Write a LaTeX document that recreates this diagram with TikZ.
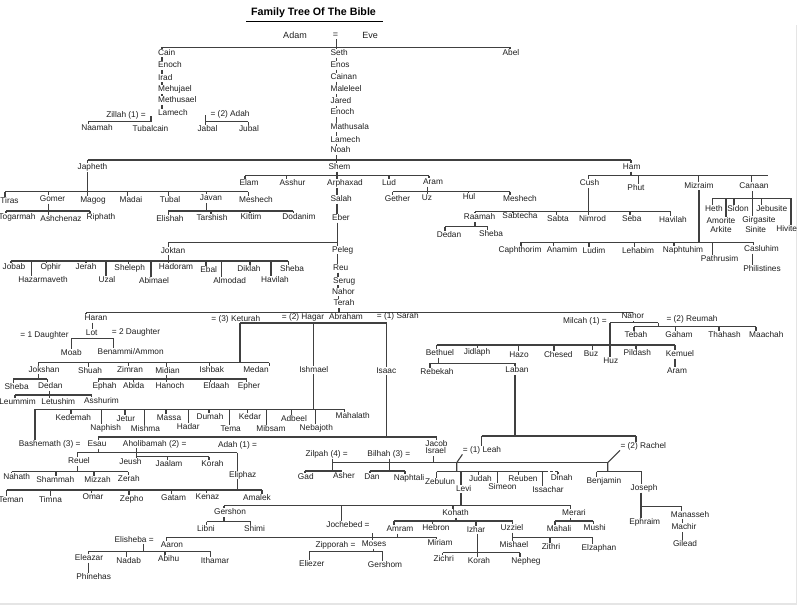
\documentclass[tikz,border=0pt]{standalone}
\usepackage{fontspec}
\setmainfont{Liberation Sans}
\newcommand\fs{\fontsize{8.3}{9}\selectfont}
\newcommand\ftk[3]{\draw[ln] (#1,#2) -- (#1,0 |- #3.north);}
\newcommand\fvd[3]{\draw[ln] (#1,0 |- #2.south) -- (#1,0 |- #3.north);}
\newcommand\fvb[3]{\draw[ln] (#1,0 |- #2.south) -- (#1,#3);}
\newcommand\fhb[3]{\draw[ln] (#2,#1) -- (#3,#1);}
\begin{document}
\begin{tikzpicture}[x=1pt,y=-1pt,
  n/.style={inner sep=0.4pt,text height=5.9pt,text depth=1.7pt,font=\fs,text=black!88},
  ln/.style={line width=1.1pt,draw=black!75},
  big/.style={n,font=\fontsize{9}{10}\selectfont}]
\useasboundingbox (0,0) rectangle (800,608);
\fill[white] (0,0) rectangle (800,608);
\draw[black!10,line width=1.5pt] (796.5,25) -- (796.5,604) -- (0,604);
% title
\node[font=\bfseries\fontsize{10.7}{12}\selectfont,inner sep=0pt] (title) at (313.5,13) {Family Tree Of The Bible};
\draw[line width=1.6pt] (246,21.5) -- (383,21.5);
\node[big] (adam) at (295,36.7) {Adam};
\node[big] (eq) at (335.5,35) {=};
\node[big] (eve) at (370,36) {Eve};
\fhb{47.3}{162}{510}
% Cain line
\node[n,anchor=west] (cain) at (157.5,53) {Cain};
\node[n,anchor=west] (enocha) at (157.5,65.5) {Enoch};
\node[n,anchor=west] (irad) at (157.5,78) {Irad};
\node[n,anchor=west] (mehujael) at (157.5,89.5) {Mehujael};
\node[n,anchor=west] (methusael) at (157.5,100.5) {Methusael};
\node[n,anchor=west] (lamecha) at (157.5,113.3) {Lamech};
\ftk{162}{47.3}{cain}
\fvd{162}{cain}{enocha}\fvd{162}{enocha}{irad}\fvd{162}{irad}{mehujael}
\fvd{162}{mehujael}{methusael}\fvd{162}{methusael}{lamecha}
\node[n,anchor=west] (zillah) at (105.7,115) {Zillah (1) =};
\fhb{121.7}{88.3}{151}
\draw[ln] (151,116) -- (151,121.7);
\node[n] (naamah) at (97,128.7) {Naamah};
\node[n] (tubalcain) at (150.5,129) {Tubalcain};
\ftk{88.3}{121.7}{naamah}
\node[n,anchor=west] (adah) at (210,114) {= (2) Adah};
\fhb{121.7}{205.7}{248.3}
\draw[ln] (205.7,115) -- (205.7,121.7);
\node[n] (jabal) at (207.5,129) {Jabal};
\node[n] (jubal) at (249,129) {Jubal};
\ftk{205.7}{121.7}{jabal}\ftk{248.3}{121.7}{jubal}
\node[n] (abel) at (511,53.3) {Abel};
\ftk{510}{47.3}{abel}
% Seth line
\node[n,anchor=west] (seth) at (330,53.3) {Seth};
\node[n,anchor=west] (enos) at (330,65.3) {Enos};
\node[n,anchor=west] (cainan) at (330,77.3) {Cainan};
\node[n,anchor=west] (maleleel) at (330,89.3) {Maleleel};
\node[n,anchor=west] (jared) at (330,101.7) {Jared};
\node[n,anchor=west] (enochs) at (330,112.7) {Enoch};
\node[n,anchor=west] (mathusala) at (330,127.7) {Mathusala};
\node[n,anchor=west] (lamechs) at (330,140) {Lamech};
\node[n,anchor=west] (noah) at (330,150.7) {Noah};
\fvd{336.7}{eq}{seth}
\fvd{336.7}{seth}{enos}\fvd{336.7}{enos}{cainan}\fvd{336.7}{cainan}{maleleel}
\fvd{336.7}{maleleel}{jared}\fvd{336.7}{jared}{enochs}\fvd{336.7}{enochs}{mathusala}
\fvd{336.7}{mathusala}{lamechs}\fvd{336.7}{lamechs}{noah}
% Noah's sons
\fhb{160}{87.5}{631}
\node[n] (shem) at (339.5,167.3) {Shem};
\node[n] (japheth) at (92.5,167.7) {Japheth};
\node[n] (ham) at (631.7,167.3) {Ham};
\fvd{336.7}{noah}{shem}
\ftk{87.5}{160}{japheth}\ftk{631}{160}{ham}
% Japheth
\fvb{87.5}{japheth}{191.7}
\fhb{191.7}{5}{248.3}
\node[n] (tiras) at (9.5,201) {Tiras};
\node[n] (gomer) at (52.5,199.3) {Gomer};
\node[n] (magog) at (93,200.7) {Magog};
\node[n] (madai) at (131,200.7) {Madai};
\node[n] (tubal) at (170,200) {Tubal};
\node[n] (javan) at (211,198.7) {Javan};
\node[n] (meshechj) at (256,200) {Meshech};
\ftk{5}{191.7}{tiras}\ftk{48.3}{191.7}{gomer}\ftk{87.5}{191.7}{magog}
\ftk{127.7}{191.7}{madai}\ftk{168.3}{191.7}{tubal}\ftk{206.7}{191.7}{javan}
\ftk{248.3}{191.7}{meshechj}
\fvb{48.3}{gomer}{211}
\fhb{211}{6}{90}
\node[n] (togarmah) at (17,217.7) {Togarmah};
\node[n] (ashchenaz) at (61,219) {Ashchenaz};
\node[n] (riphath) at (101,217.3) {Riphath};
\ftk{6}{211}{togarmah}\ftk{48.3}{211}{ashchenaz}\ftk{90}{211}{riphath}
\fvb{206.7}{javan}{211}
\fhb{211}{168.3}{293.3}
\node[n] (elishah) at (170,219.3) {Elishah};
\node[n] (tarshish) at (212,218.7) {Tarshish};
\node[n] (kittim) at (251,217.7) {Kittim};
\node[n] (dodanim) at (299,217.7) {Dodanim};
\ftk{168.3}{211}{elishah}\ftk{211}{211}{tarshish}\ftk{250}{211}{kittim}\ftk{293.3}{211}{dodanim}
% Shem
\fvb{337}{shem}{175.5}
\fhb{175.5}{245}{429}
\node[n] (elam) at (249,183.3) {Elam};
\node[n] (asshur) at (292.5,183.7) {Asshur};
\node[n] (arphaxad) at (345,183.7) {Arphaxad};
\node[n] (lud) at (389,183.7) {Lud};
\node[n] (aram) at (433,182.3) {Aram};
\ftk{245}{175.5}{elam}\ftk{286.7}{175.5}{asshur}\ftk{337}{175.5}{arphaxad}
\ftk{389}{175.5}{lud}\ftk{429}{175.5}{aram}
\fvb{427.7}{aram}{191.7}
\fhb{191.7}{392.7}{510}
\node[n] (gether) at (397.5,199.3) {Gether};
\node[n] (uz) at (427,198) {Uz};
\node[n] (hul) at (469,197.7) {Hul};
\node[n] (meshecha) at (520,199) {Meshech};
\ftk{392.7}{191.7}{gether}\ftk{427.7}{191.7}{uz}\ftk{468.5}{191.7}{hul}\ftk{510}{191.7}{meshecha}
% Arphaxad line
\node[n,anchor=west] (salah) at (330,199.3) {Salah};
\node[n,anchor=west] (eber) at (331.5,218.3) {Eber};
\node[n,anchor=west] (peleg) at (331.5,250) {Peleg};
\node[n,anchor=west] (reu) at (332.5,268.3) {Reu};
\node[n,anchor=west] (serug) at (332.5,281) {Serug};
\node[n,anchor=west] (nahora) at (331.5,292) {Nahor};
\node[n,anchor=west] (terah) at (333,303.7) {Terah};
\fvd{337}{arphaxad}{salah}\fvd{337}{salah}{eber}\fvd{337.5}{eber}{peleg}
\fvd{337.5}{peleg}{reu}\fvd{338}{reu}{serug}\fvd{338}{serug}{nahora}\fvd{338.5}{nahora}{terah}
% Joktan
\fhb{242.7}{168.3}{337.5}
\node[n] (joktan) at (173,251) {Joktan};
\ftk{168.3}{242.7}{joktan}
\fhb{261}{11}{288.3}
\node[n] (jobab) at (14,267.7) {Jobab};
\node[n] (hazarmaveth) at (43,280.7) {Hazarmaveth};
\node[n] (ophir) at (50.7,267.7) {Ophir};
\node[n] (jerah) at (86,267.7) {Jerah};
\node[n] (uzal) at (107,280) {Uzal};
\node[n] (sheleph) at (129.7,268.3) {Sheleph};
\node[n] (abimael) at (154,281) {Abimael};
\node[n] (hadoram) at (176,267.7) {Hadoram};
\node[n] (ebal) at (208.7,270) {Ebal};
\node[n] (almodad) at (229.7,281) {Almodad};
\node[n] (diklah) at (249,269.3) {Diklah};
\node[n] (havilahj) at (275,280) {Havilah};
\node[n] (shebaj) at (292,269) {Sheba};
\fvd{168.3}{joktan}{hadoram}
\ftk{11}{261}{jobab}\ftk{31.7}{261}{hazarmaveth}\ftk{46.7}{261}{ophir}\ftk{86}{261}{jerah}
\ftk{106}{261}{uzal}\ftk{128.3}{261}{sheleph}\ftk{151}{261}{abimael}\ftk{206}{261}{ebal}
\ftk{221.7}{261}{almodad}\ftk{250}{261}{diklah}\ftk{271}{261}{havilahj}\ftk{288.3}{261}{shebaj}
% Ham
\fvb{631}{ham}{175.7}
\fhb{175.7}{588.3}{768.3}
\node[n] (cush) at (589.5,183.7) {Cush};
\node[n] (phut) at (636,188.3) {Phut};
\node[n] (mizraim) at (699,186) {Mizraim};
\node[n] (canaan) at (754,186.7) {Canaan};
\ftk{588.3}{175.7}{cush}\ftk{638.3}{175.7}{phut}\ftk{698.3}{175.7}{mizraim}\ftk{751.7}{175.7}{canaan}
\fhb{211.5}{475}{670.7}
\node[n] (raamah) at (479.5,217.7) {Raamah};
\node[n] (sabtecha) at (520,216.7) {Sabtecha};
\node[n] (sabta) at (558,219.3) {Sabta};
\node[n] (nimrod) at (592.5,219.3) {Nimrod};
\node[n] (seba) at (631.7,219.3) {Seba};
\node[n] (havilahc) at (673,220) {Havilah};
\fvd{588.3}{cush}{nimrod}
\ftk{475}{211.5}{raamah}\ftk{512.3}{211.5}{sabtecha}\ftk{556.7}{211.5}{sabta}
\ftk{630}{211.5}{seba}\ftk{670.7}{211.5}{havilahc}
\fvb{475}{raamah}{226.7}
\fhb{226.7}{445}{487.7}
\node[n] (dedanr) at (449,235) {Dedan};
\node[n] (shebar) at (491,234.3) {Sheba};
\ftk{445}{226.7}{dedanr}\ftk{487.7}{226.7}{shebar}
\fvb{699}{mizraim}{242.3}
\fhb{242.3}{521}{753.3}
\node[n] (caphthorim) at (520,250) {Caphthorim};
\node[n] (anamim) at (562,250) {Anamim};
\node[n] (ludim) at (594,251) {Ludim};
\node[n] (lehabim) at (638,251) {Lehabim};
\node[n] (naphtuhim) at (683,250.7) {Naphtuhim};
\node[n] (pathrusim) at (719.5,259) {Pathrusim};
\node[n] (casluhim) at (761.5,249.3) {Casluhim};
\node[n] (philistines) at (762,269) {Philistines};
\ftk{521}{242.3}{caphthorim}\ftk{553.3}{242.3}{anamim}\ftk{589}{242.3}{ludim}
\ftk{634.3}{242.3}{lehabim}\ftk{674}{242.3}{naphtuhim}\ftk{712.7}{242.3}{pathrusim}
\ftk{753.3}{242.3}{casluhim}\fvd{752.7}{casluhim}{philistines}
\fhb{198.3}{712.7}{791}
\node[n] (heth) at (714,209.3) {Heth};
\node[n] (sidon) at (738,209.3) {Sidon};
\node[n] (jebusite) at (771.7,209) {Jebusite};
\node[n] (amorite) at (721,221) {Amorite};
\node[n] (arkite) at (721,230) {Arkite};
\node[n] (girgasite) at (759,220) {Girgasite};
\node[n] (sinite) at (755.7,230) {Sinite};
\node[n] (hivite) at (786.7,229) {Hivite};
\fvd{752.7}{canaan}{girgasite}
\ftk{712.7}{198.3}{heth}\ftk{734}{198.3}{sidon}\ftk{761.7}{198.3}{jebusite}
\ftk{726}{198.3}{amorite}\ftk{791}{198.3}{hivite}
% Terah
\fhb{312.5}{86}{633}
\draw[ln] (339,0 |- terah.south) -- (339,312.5);
\node[n] (haran) at (96,318.3) {Haran};
\ftk{86}{312.5}{haran}
\node[n] (lot) at (91.7,333.3) {Lot};
\node[n] (daughter1) at (44.5,335) {= 1 Daughter};
\node[n] (daughter2) at (136,332.3) {= 2 Daughter};
\fvd{92.7}{haran}{lot}
\fvb{92.7}{lot}{338.3}
\draw[ln,line width=1.4pt] (71.7,338.3) -- (113.3,338.3);
\node[n] (moab) at (71.3,353.3) {Moab};
\node[n] (benammi) at (130.7,352.7) {Benammi/Ammon};
\draw[ln,line width=1.4pt] (71.7,338.3) -- (71.7,0 |- moab.north);
\draw[ln,line width=1.4pt] (113.3,338.3) -- (113.3,0 |- benammi.north);
% Abraham
\node[n] (keturah) at (235.8,319) {= (3) Keturah};
\node[n] (hagar) at (303,317.3) {= (2) Hagar};
\node[n] (abraham) at (346,317.7) {Abraham};
\node[n] (sarah) at (397.8,316.7) {= (1) Sarah};
\fvb{348}{abraham}{323}
\fhb{323}{240}{386.7}
\draw[ln] (240,323) -- (240,362.7);
\fhb{362.7}{38.3}{269.3}
\node[n] (jokshan) at (44,370) {Jokshan};
\node[n] (shuah) at (90,371) {Shuah};
\node[n] (zimran) at (130,370) {Zimran};
\node[n] (midian) at (167.5,371) {Midian};
\node[n] (ishbak) at (211.7,370) {Ishbak};
\node[n] (medan) at (256,370.3) {Medan};
\ftk{38.3}{362.7}{jokshan}\ftk{88.3}{362.7}{shuah}\ftk{128.3}{362.7}{zimran}
\ftk{166.7}{362.7}{midian}\ftk{209.3}{362.7}{ishbak}\ftk{269.3}{362.7}{medan}
\fvb{38.3}{jokshan}{379}
\fhb{379}{13.3}{47.3}
\node[n] (shebak) at (16.7,387.3) {Sheba};
\node[n] (dedank) at (50.3,386.7) {Dedan};
\ftk{13.3}{379}{shebak}\ftk{47.3}{379}{dedank}
\fvb{49.3}{dedank}{395}
\fhb{395}{15}{91.7}
\node[n] (leummim) at (17.5,402.3) {Leummim};
\node[n] (letushim) at (58.3,402.3) {Letushim};
\node[n] (asshurim) at (101.5,401.7) {Asshurim};
\ftk{15}{395}{leummim}\ftk{49.3}{395}{letushim}\ftk{91.7}{395}{asshurim}
\fvb{166.7}{midian}{379}
\fhb{379}{98.3}{246.7}
\node[n] (ephah) at (104.5,386.7) {Ephah};
\node[n] (abida) at (133.7,386.7) {Abida};
\node[n] (hanoch) at (170,386) {Hanoch};
\node[n] (eldaah) at (216.3,386.7) {Eldaah};
\node[n] (epher) at (249,386.7) {Epher};
\ftk{98.3}{379}{ephah}\ftk{133.3}{379}{abida}\ftk{166.7}{379}{hanoch}
\ftk{210.7}{379}{eldaah}\ftk{246.7}{379}{epher}
% Ishmael
\node[n] (ishmael) at (313.8,370) {Ishmael};
\ftk{313.3}{323}{ishmael}
\fvb{313.3}{ishmael}{409.3}
\fhb{409.3}{35}{345}
\node[n] (kedemah) at (73.3,418.3) {Kedemah};
\node[n] (naphish) at (105.7,428.3) {Naphish};
\node[n] (jetur) at (125.8,419) {Jetur};
\node[n] (mishma) at (145.5,429) {Mishma};
\node[n] (massa) at (169,418.3) {Massa};
\node[n] (hadar) at (188.3,427.7) {Hadar};
\node[n] (dumah) at (210,417.3) {Dumah};
\node[n] (tema) at (230.7,429) {Tema};
\node[n] (kedar) at (250,417.7) {Kedar};
\node[n] (mibsam) at (271,429) {Mibsam};
\node[n] (adbeel) at (294,419) {Adbeel};
\node[n] (nebajoth) at (316.3,428.3) {Nebajoth};
\node[n] (mahalath) at (352.7,416.7) {Mahalath};
\ftk{71}{409.3}{kedemah}\ftk{101.7}{409.3}{naphish}\ftk{125}{409.3}{jetur}
\ftk{144.3}{409.3}{mishma}\ftk{166}{409.3}{massa}\ftk{188.3}{409.3}{hadar}
\ftk{209}{409.3}{dumah}\ftk{229.3}{409.3}{tema}\ftk{247.3}{409.3}{kedar}
\ftk{266.5}{409.3}{mibsam}\ftk{291.7}{409.3}{adbeel}\ftk{315.3}{409.3}{nebajoth}
\ftk{344.3}{409.3}{mahalath}
\node[n] (bashemath) at (49.7,444.3) {Bashemath (3) =};
\ftk{35}{409.3}{bashemath}
% Isaac
\node[n] (isaac) at (386.3,371) {Isaac};
\ftk{386.7}{323}{isaac}
\fvb{386.7}{isaac}{437}
\fhb{437}{98.3}{436.7}
\node[n] (esau) at (97,444.3) {Esau};
\node[n] (jacob) at (436.5,444) {Jacob};
\node[n] (israel) at (435.7,451.7) {Israel};
\ftk{98.3}{437}{esau}\ftk{436.7}{437}{jacob}
\node[n] (aholibamah) at (154.7,444) {Aholibamah (2) =};
\node[n] (adahe) at (237.5,445) {Adah (1) =};
% Esau
\fvb{98.3}{esau}{452.7}
\fhb{452.7}{77.3}{237.3}
\node[n] (reuel) at (79,461.7) {Reuel};
\ftk{77.3}{452.7}{reuel}
\draw[ln,line width=1.4pt] (136.7,0 |- aholibamah.south) -- (136.7,456.7);
\fhb{456.7}{136.7}{209}
\node[n] (jeush) at (130.5,462.7) {Jeush};
\node[n] (jaalam) at (169,464) {Jaalam};
\node[n] (korahe) at (212.5,464.3) {Korah};
\ftk{136.7}{456.7}{jeush}\ftk{167.7}{456.7}{jaalam}\ftk{209}{456.7}{korahe}
\node[n] (eliphaz) at (242.7,475) {Eliphaz};
\ftk{237.3}{452.7}{eliphaz}
\fvb{77.3}{reuel}{471.7}
\fhb{471.7}{11.7}{128.3}
\node[n] (nahath) at (16.7,477.3) {Nahath};
\node[n] (shammah) at (55.3,480.7) {Shammah};
\node[n] (mizzah) at (97.5,480) {Mizzah};
\node[n] (zerah) at (128.8,479.3) {Zerah};
\ftk{11.7}{471.7}{nahath}\ftk{56}{471.7}{shammah}\ftk{94}{471.7}{mizzah}\ftk{128.3}{471.7}{zerah}
\fvb{237.3}{eliphaz}{490}
\fhb{490}{6.7}{262}
\node[n] (teman) at (11,500.7) {Teman};
\node[n] (timna) at (50.5,500) {Timna};
\node[n] (omar) at (93,497.7) {Omar};
\node[n] (zepho) at (131.7,499.3) {Zepho};
\node[n] (gatam) at (173.5,498.3) {Gatam};
\node[n] (kenaz) at (207.5,497.3) {Kenaz};
\node[n] (amalek) at (257,498.3) {Amalek};
\ftk{6.7}{490}{teman}\ftk{50.7}{490}{timna}\ftk{91.7}{490}{omar}\ftk{129}{490}{zepho}
\ftk{171.7}{490}{gatam}\ftk{206.7}{490}{kenaz}\ftk{262}{490}{amalek}
% Nahor (Terah's son)
\node[n] (nahorb) at (632.8,316.7) {Nahor};
\node[n] (milcah) at (585,321) {Milcah (1) =};
\node[n] (reumah) at (692,319) {= (2) Reumah};
\fvb{633.3}{nahorb}{322.7}
\draw[ln,line width=1.4pt] (610,322.7) -- (658.3,322.7);
\draw[ln,line width=1.4pt] (658.3,322.7) -- (658.3,326.7);
\fhb{326.7}{634}{756}
\node[n] (tebah) at (636,335) {Tebah};
\node[n] (gaham) at (679,335) {Gaham};
\node[n] (thahash) at (724.5,335) {Thahash};
\node[n] (maachah) at (766.3,335.7) {Maachah};
\ftk{634}{326.7}{tebah}\ftk{675.7}{326.7}{gaham}\ftk{719}{326.7}{thahash}\ftk{756}{326.7}{maachah}
\fhb{345}{436.7}{675}
\node[n] (bethuel) at (440,353.3) {Bethuel};
\node[n] (jidlaph) at (477,352.7) {Jidlaph};
\node[n] (hazo) at (519,355) {Hazo};
\node[n] (chesed) at (558.3,355.7) {Chesed};
\node[n] (buz) at (591,354) {Buz};
\node[n] (huz) at (610.8,361.7) {Huz};
\node[n] (pildash) at (637.3,353.3) {Pildash};
\node[n] (kemuel) at (680,354.3) {Kemuel};
\node[n] (aramk) at (677,371.7) {Aram};
\draw[ln,line width=1.4pt] (610,322.7) -- (610,0 |- huz.north);
\ftk{436.7}{345}{bethuel}\ftk{477.3}{345}{jidlaph}\ftk{518.3}{345}{hazo}\ftk{554}{345}{chesed}
\ftk{592.3}{345}{buz}\ftk{636}{345}{pildash}\ftk{675}{345}{kemuel}
\fvd{675}{kemuel}{aramk}
\fvb{438.3}{bethuel}{363.3}
\fhb{363.3}{430}{515}
\node[n] (rebekah) at (437,372.7) {Rebekah};
\node[n] (laban) at (517,370.7) {Laban};
\ftk{430}{363.3}{rebekah}\ftk{515}{363.3}{laban}
\fvb{515}{laban}{436}
\fhb{436}{481.7}{636}
\node[n] (leah) at (482,450) {= (1) Leah};
\node[n] (rachel) at (643.3,446) {= (2) Rachel};
\draw[ln,line width=1.4pt] (481.7,436) -- (481.7,0 |- leah.north);
\ftk{636}{436}{rachel}
% Jacob
\fvb{433.3}{israel}{462.7}
\fhb{462.7}{332.7}{607.7}
\node[n] (zilpah) at (326.7,454.3) {Zilpah (4) =};
\node[n] (bilhah) at (388.8,454.3) {Bilhah (3) =};
\fvb{332.7}{zilpah}{471}
\fhb{471}{305}{341.7}
\node[n] (gad) at (305.8,477.7) {Gad};
\node[n] (asher) at (344,476.7) {Asher};
\ftk{305}{471}{gad}\ftk{341.7}{471}{asher}
\fvb{389.3}{bilhah}{471}
\fhb{471}{370}{405}
\node[n] (dan) at (372,477.3) {Dan};
\node[n] (naphtali) at (409,478.3) {Naphtali};
\ftk{370}{471}{dan}\ftk{405}{471}{naphtali}
\draw[ln] (leah.south west) -- (456.7,462.7) -- (456.7,471.7);
\fhb{471.7}{436.7}{545}
\draw[ln,dashed,dash pattern=on 3pt off 2pt] (545,471.7) -- (558,471.7);
\node[n] (zebulun) at (440,482.3) {Zebulun};
\node[n] (levi) at (463.7,489) {Levi};
\node[n] (judah) at (480.5,479) {Judah};
\node[n] (simeon) at (502.5,487.3) {Simeon};
\node[n] (reuben) at (523,479) {Reuben};
\node[n] (issachar) at (548,490) {Issachar};
\node[n] (dinah) at (561.7,478.3) {Dinah};
\ftk{436.7}{471.7}{zebulun}\ftk{461}{471.7}{levi}\ftk{478.3}{471.7}{judah}
\ftk{497.7}{471.7}{simeon}\ftk{518.3}{471.7}{reuben}
\draw[ln,line width=1.4pt] (542.7,471.7) -- (542.7,0 |- issachar.north);
\draw[ln,dashed,dash pattern=on 2pt off 1.5pt] (558,471.7) -- (558,0 |- dinah.north);
\draw[ln] (rachel.south west) -- (607.7,462.7) -- (607.7,471.7);
\fhb{471.7}{596.7}{641.7}
\node[n] (benjamin) at (604,481.7) {Benjamin};
\node[n] (joseph) at (644,488.3) {Joseph};
\ftk{596.7}{471.7}{benjamin}\ftk{641.7}{471.7}{joseph}
\node[n] (ephraim) at (644.7,522.7) {Ephraim};
\node[n] (manasseh) at (690,515) {Manasseh};
\node[n] (machir) at (684,527.7) {Machir};
\node[n] (gilead) at (685,544.3) {Gilead};
\fvd{641}{joseph}{ephraim}
\fhb{506.7}{641}{681.7}
\ftk{681.7}{506.7}{manasseh}
\fvd{682.3}{manasseh}{machir}\fvd{682.3}{machir}{gilead}
% Levi
\fvb{461}{levi}{505.7}
\fhb{505.7}{224}{570.7}
\node[n] (gershon) at (230,512.7) {Gershon};
\node[n] (jochebed) at (348,525.7) {Jochebed =};
\node[n] (kohath) at (455.5,513.3) {Kohath};
\node[n] (merari) at (574,513.3) {Merari};
\ftk{224}{505.7}{gershon}\ftk{341.7}{505.7}{jochebed}\ftk{453}{505.7}{kohath}\ftk{570.7}{505.7}{merari}
\fvb{224}{gershon}{521.7}
\fhb{521.7}{206.7}{250.7}
\node[n] (libni) at (206,529) {Libni};
\node[n] (shimi) at (254.5,529.3) {Shimi};
\ftk{206.7}{521.7}{libni}\ftk{250.7}{521.7}{shimi}
\fvb{456}{kohath}{521}
\fhb{521}{394}{512.7}
\node[n] (amram) at (400,529.3) {Amram};
\node[n] (hebron) at (436,528.3) {Hebron};
\node[n] (izhar) at (476,530) {Izhar};
\node[n] (uzziel) at (512,528.3) {Uzziel};
\ftk{394}{521}{amram}\ftk{432.3}{521}{hebron}\ftk{476}{521}{izhar}\ftk{512.7}{521}{uzziel}
\fvb{570.7}{merari}{521}
\fhb{521}{555}{593.3}
\node[n] (mahali) at (559,529.3) {Mahali};
\node[n] (mushi) at (594.7,528.3) {Mushi};
\ftk{555}{521}{mahali}\ftk{593.3}{521}{mushi}
% Amram
\fvb{397.3}{amram}{537.3}
\fhb{537.3}{166.7}{436.7}
\node[n] (aaron) at (172,545) {Aaron};
\node[n] (moses) at (374,544.3) {Moses};
\node[n] (miriam) at (440,543.3) {Miriam};
\ftk{166.7}{537.3}{aaron}\ftk{372.7}{533}{moses}\ftk{436.7}{537.3}{miriam}
\node[n] (elisheba) at (134.2,540) {Elisheba =};
\fvb{143.3}{elisheba}{551.7}
\fhb{551.7}{88.3}{210.7}
\node[n] (eleazar) at (89,558.3) {Eleazar};
\node[n] (nadab) at (128.7,561) {Nadab};
\node[n] (abihu) at (168.7,559.3) {Abihu};
\node[n] (ithamar) at (215,561) {Ithamar};
\node[n] (phinehas) at (93.7,577.3) {Phinehas};
\ftk{88.3}{551.7}{eleazar}\ftk{126.7}{551.7}{nadab}\ftk{165}{551.7}{abihu}\ftk{210.7}{551.7}{ithamar}
\fvd{88.3}{eleazar}{phinehas}
\node[n] (zipporah) at (335.5,545.7) {Zipporah =};
\fvb{373.3}{moses}{551.7}
\draw[ln,line width=1.4pt] (309.3,551.7) -- (382.7,551.7);
\node[n] (eliezer) at (311.7,564) {Eliezer};
\node[n] (gershom) at (385,565) {Gershom};
\draw[ln,line width=1.4pt] (309.3,551.7) -- (309.3,0 |- eliezer.north);
\draw[ln,line width=1.4pt] (382.7,551.7) -- (382.7,0 |- gershom.north);
% Izhar
\node[n] (zichri) at (443.7,559.3) {Zichri};
\node[n] (korahi) at (479,561) {Korah};
\node[n] (nepheg) at (526,561) {Nepheg};
\fvd{477.3}{izhar}{korahi}
\fhb{552.7}{442.7}{520}
\ftk{442.7}{552.7}{zichri}\ftk{520}{552.7}{nepheg}
% Uzziel
\node[n] (mishael) at (514,545.7) {Mishael};
\node[n] (zithri) at (551,547.3) {Zithri};
\node[n] (elzaphan) at (599,548.3) {Elzaphan};
\fvd{512.3}{uzziel}{mishael}
\fhb{537.3}{512.3}{592.3}
\ftk{550}{537.3}{zithri}\ftk{592.3}{537.3}{elzaphan}
\end{tikzpicture}
\end{document}
